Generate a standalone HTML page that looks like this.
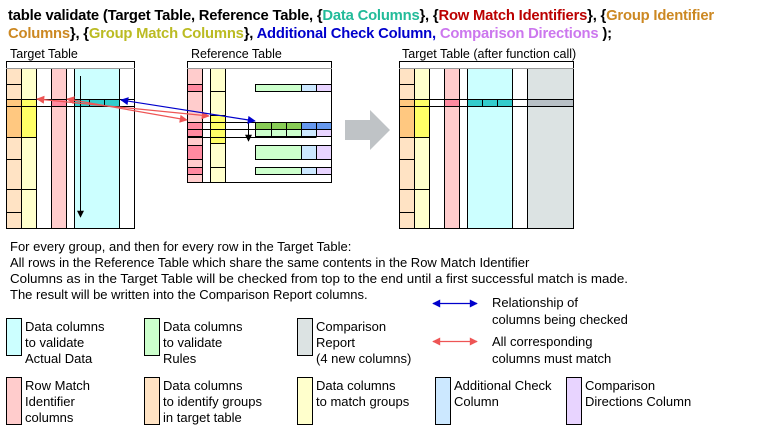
<!DOCTYPE html>
<html><head><meta charset="utf-8"><style>
body{margin:0;background:#fff;}
svg{display:block;font-family:"Liberation Sans",Arial,sans-serif;}
</style></head><body>
<svg width="762" height="435" viewBox="0 0 762 435" xmlns="http://www.w3.org/2000/svg">
<defs>
<marker id="ab" viewBox="0 0 10 10" refX="9" refY="5" markerWidth="10" markerHeight="8" markerUnits="userSpaceOnUse" orient="auto-start-reverse"><path d="M0,0L10,5L0,10z" fill="#0000cc"/></marker>
<marker id="ar" viewBox="0 0 10 10" refX="9" refY="5" markerWidth="10" markerHeight="8" markerUnits="userSpaceOnUse" orient="auto-start-reverse"><path d="M0,0L10,5L0,10z" fill="#ee5555"/></marker>
<marker id="ak" viewBox="0 0 10 10" refX="9" refY="5" markerWidth="8" markerHeight="7" markerUnits="userSpaceOnUse" orient="auto"><path d="M0,0L10,5L0,10z" fill="#000"/></marker>
</defs>
<g font-weight="bold" font-size="14.8" letter-spacing="-0.2">
<text x="8" y="20"><tspan fill="#000">table validate (Target Table, Reference Table, {</tspan><tspan fill="#22bb99">Data Columns</tspan><tspan fill="#000">}, {</tspan><tspan fill="#bb0000">Row Match Identifiers</tspan><tspan fill="#000">}, {</tspan><tspan fill="#cc8822">Group Identifier</tspan></text>
<text x="8" y="38"><tspan fill="#cc8822">Columns</tspan><tspan fill="#000">}, {</tspan><tspan fill="#bbbb22">Group Match Columns</tspan><tspan fill="#000">}, </tspan><tspan fill="#0000cc">Additional  Check Column, </tspan><tspan fill="#cc77ee">Comparison Directions</tspan><tspan fill="#000"> );</tspan></text>
</g>
<g font-size="12.5" fill="#000">
<text x="10" y="58">Target  Table</text>
<text x="191" y="58">Reference  Table</text>
<text x="402" y="58">Target  Table  (after function call)</text>
</g>

<!-- Target table -->
<g stroke="#000" stroke-width="1">
<rect x="6.5" y="61.5" width="128" height="7" fill="#fff"/>
<rect x="6.5" y="68.5" width="128" height="160" fill="#fff"/>
<rect x="6.5" y="68.5" width="15" height="160" fill="#ffe3c4"/>
<rect x="21.5" y="68.5" width="15" height="160" fill="#ffffcc"/>
<rect x="51.5" y="68.5" width="15" height="160" fill="#ffcccc"/>
<rect x="74.5" y="68.5" width="45" height="160" fill="#ccffff"/>
<line x1="66.5" y1="68.5" x2="66.5" y2="228.5"/>
<rect x="6.5" y="106.5" width="15" height="31" fill="#ffc880"/>
<rect x="21.5" y="106.5" width="15" height="31" fill="#ffff66"/>
<rect x="6.5" y="99.5" width="15" height="7" fill="#ffc880"/>
<rect x="21.5" y="99.5" width="15" height="7" fill="#ffff66"/>
<rect x="51.5" y="99.5" width="15" height="7" fill="#ff8aa0"/>
<rect x="74.5" y="99.5" width="15" height="7" fill="#33cccc"/>
<rect x="89.5" y="99.5" width="15" height="7" fill="#33cccc"/>
<rect x="104.5" y="99.5" width="15" height="7" fill="#33cccc"/>
<line x1="6.5" y1="99.5" x2="134.5" y2="99.5"/>
<line x1="6.5" y1="106.5" x2="134.5" y2="106.5"/>
<line x1="6.5" y1="84.5" x2="21.5" y2="84.5"/>
<line x1="6.5" y1="159.5" x2="21.5" y2="159.5"/>
<line x1="6.5" y1="189.5" x2="36.5" y2="189.5"/>
<line x1="6.5" y1="212.5" x2="21.5" y2="212.5"/>
<line x1="6.5" y1="137.5" x2="36.5" y2="137.5"/>
</g>
<line x1="6" y1="68.5" x2="135" y2="68.5" stroke="#999" stroke-width="1"/>
<line x1="80.5" y1="76" x2="80.5" y2="217" stroke="#000" stroke-width="1" marker-end="url(#ak)"/>

<!-- Reference table -->
<g stroke="#000" stroke-width="1">
<rect x="187.5" y="61.5" width="144" height="7" fill="#fff"/>
<rect x="187.5" y="68.5" width="144" height="114" fill="#fff"/>
<rect x="187.5" y="68.5" width="15" height="114" fill="#ffcccc"/>
<rect x="210.5" y="68.5" width="15" height="114" fill="#ffffcc"/>
<rect x="210.5" y="115.5" width="15" height="28" fill="#ffff66"/>
<rect x="187.5" y="84.5" width="15" height="7" fill="#ff8aa0"/>
<rect x="187.5" y="122.5" width="15" height="7" fill="#ff8aa0"/>
<rect x="187.5" y="129.5" width="15" height="7" fill="#ff8aa0"/>
<rect x="187.5" y="145.5" width="15" height="14" fill="#ff8aa0"/>
<rect x="187.5" y="167.5" width="15" height="7" fill="#ff8aa0"/>
<line x1="210.5" y1="91.5" x2="225.5" y2="91.5"/>
<line x1="210.5" y1="143.5" x2="225.5" y2="143.5"/>
<line x1="210.5" y1="167.5" x2="225.5" y2="167.5"/>
<rect x="255.5" y="84.5" width="46" height="7" fill="#ccffcc"/><rect x="301.5" y="84.5" width="15" height="7" fill="#cce8ff"/><rect x="316.5" y="84.5" width="15" height="7" fill="#e8d4ff"/>
<rect x="255.5" y="122.5" width="16" height="7" fill="#88cc55"/><rect x="271.5" y="122.5" width="15" height="7" fill="#88cc55"/><rect x="286.5" y="122.5" width="15" height="7" fill="#88cc55"/><rect x="301.5" y="122.5" width="15" height="7" fill="#6699ee"/><rect x="316.5" y="122.5" width="15" height="7" fill="#6699ee"/>
<rect x="255.5" y="129.5" width="16" height="7" fill="#ccffcc"/><rect x="271.5" y="129.5" width="15" height="7" fill="#ccffcc"/><rect x="286.5" y="129.5" width="15" height="7" fill="#ccffcc"/><rect x="301.5" y="129.5" width="15" height="7" fill="#cce8ff"/><rect x="316.5" y="129.5" width="15" height="7" fill="#e8d4ff"/>
<rect x="255.5" y="145.5" width="46" height="14" fill="#ccffcc"/><rect x="301.5" y="145.5" width="15" height="14" fill="#cce8ff"/><rect x="316.5" y="145.5" width="15" height="14" fill="#e8d4ff"/>
<rect x="255.5" y="167.5" width="46" height="7" fill="#ccffcc"/><rect x="301.5" y="167.5" width="15" height="7" fill="#cce8ff"/><rect x="316.5" y="167.5" width="15" height="7" fill="#e8d4ff"/>
<line x1="187.5" y1="122.5" x2="331.5" y2="122.5"/>
<line x1="187.5" y1="129.5" x2="331.5" y2="129.5"/>
<line x1="187.5" y1="137.5" x2="316.5" y2="137.5"/>
</g>
<line x1="187" y1="68.5" x2="332" y2="68.5" stroke="#999"/>
<line x1="248.5" y1="123" x2="248.5" y2="141" stroke="#000" marker-end="url(#ak)"/>

<!-- arrows -->
<line x1="37" y1="99" x2="209" y2="116" stroke="#ee5555" stroke-width="1.2" marker-start="url(#ar)" marker-end="url(#ar)"/>
<line x1="67" y1="99" x2="187" y2="120" stroke="#ee5555" stroke-width="1.2" marker-start="url(#ar)" marker-end="url(#ar)"/>
<line x1="121" y1="100" x2="255" y2="121" stroke="#0000cc" stroke-width="1.2" marker-start="url(#ab)" marker-end="url(#ab)"/>

<path d="M345,120 L370,120 L370,110 L390,130 L370,150 L370,140 L345,140 Z" fill="#bfc3c6"/>

<!-- After table -->
<g stroke="#000" stroke-width="1">
<rect x="399.5" y="61.5" width="174" height="7" fill="#fff"/>
<rect x="399.5" y="68.5" width="174" height="160" fill="#fff"/>
<rect x="399.5" y="68.5" width="15" height="160" fill="#ffe3c4"/>
<rect x="414.5" y="68.5" width="15" height="160" fill="#ffffcc"/>
<rect x="444.5" y="68.5" width="15" height="160" fill="#ffcccc"/>
<rect x="467.5" y="68.5" width="45" height="160" fill="#ccffff"/>
<line x1="459.5" y1="68.5" x2="459.5" y2="228.5"/>
<rect x="527.5" y="68.5" width="46" height="160" fill="#dce3e3"/>
<rect x="399.5" y="106.5" width="15" height="31" fill="#ffc880"/>
<rect x="414.5" y="106.5" width="15" height="31" fill="#ffff66"/>
<rect x="399.5" y="99.5" width="15" height="7" fill="#ffc880"/>
<rect x="414.5" y="99.5" width="15" height="7" fill="#ffff66"/>
<rect x="444.5" y="99.5" width="15" height="7" fill="#ff8aa0"/>
<rect x="467.5" y="99.5" width="15" height="7" fill="#33cccc"/>
<rect x="482.5" y="99.5" width="15" height="7" fill="#33cccc"/>
<rect x="497.5" y="99.5" width="15" height="7" fill="#33cccc"/>
<rect x="527.5" y="99.5" width="46" height="7" fill="#b8c0c6"/>
<line x1="399.5" y1="99.5" x2="573.5" y2="99.5"/>
<line x1="399.5" y1="106.5" x2="573.5" y2="106.5"/>
<line x1="399.5" y1="84.5" x2="414.5" y2="84.5"/>
<line x1="399.5" y1="159.5" x2="414.5" y2="159.5"/>
<line x1="399.5" y1="189.5" x2="429.5" y2="189.5"/>
<line x1="399.5" y1="212.5" x2="414.5" y2="212.5"/>
<line x1="399.5" y1="137.5" x2="429.5" y2="137.5"/>
</g>
<line x1="399" y1="68.5" x2="574" y2="68.5" stroke="#999"/>

<g font-size="13" fill="#000">
<text x="10" y="251">For every  group,  and then for every  row in the Target  Table:</text>
<text x="10" y="267">All rows  in the Reference  Table  which  share the same contents in the Row  Match Identifier</text>
<text x="10" y="283" textLength="618" lengthAdjust="spacingAndGlyphs">Columns  as in the Target  Table will be checked from  top to the end  until a first successful match is made.</text>
<text x="10" y="299">The  result will be written into the Comparison  Report  columns.</text>
</g>
<line x1="433" y1="303.5" x2="477" y2="303.5" stroke="#0000cc" stroke-width="1.2" marker-start="url(#ab)" marker-end="url(#ab)"/>
<line x1="433" y1="341.5" x2="477" y2="341.5" stroke="#ee5555" stroke-width="1.2" marker-start="url(#ar)" marker-end="url(#ar)"/>
<g font-size="13" fill="#000">
<text x="492" y="307">Relationship  of</text><text x="492" y="324">columns being checked</text>
<text x="492" y="346">All corresponding</text><text x="492" y="363">columns must match</text>
</g>

<g stroke="#000" stroke-width="1">
<rect x="6.5" y="318.5" width="15" height="37" fill="#ccffff"/>
<rect x="144.5" y="318.5" width="15" height="37" fill="#ccffcc"/>
<rect x="297.5" y="318.5" width="15" height="37" fill="#dce3e3"/>
<rect x="6.5" y="377.5" width="15" height="47" fill="#ffcccc"/>
<rect x="144.5" y="377.5" width="15" height="47" fill="#ffe3c4"/>
<rect x="297.5" y="377.5" width="15" height="47" fill="#ffffcc"/>
<rect x="435.5" y="377.5" width="15" height="47" fill="#cce8ff"/>
<rect x="566.5" y="377.5" width="15" height="47" fill="#e8d4ff"/>
</g>
<g font-size="13" fill="#000">
<text x="25" y="331">Data columns</text><text x="25" y="347">to validate</text><text x="25" y="363">Actual Data</text>
<text x="163" y="331">Data columns</text><text x="163" y="347">to validate</text><text x="163" y="363">Rules</text>
<text x="316" y="331">Comparison</text><text x="316" y="347">Report</text><text x="316" y="363">(4 new columns)</text>
<text x="25" y="390">Row Match</text><text x="25" y="406">Identifier</text><text x="25" y="422">columns</text>
<text x="163" y="390">Data columns</text><text x="163" y="406">to identify groups</text><text x="163" y="422">in target table</text>
<text x="316" y="390">Data columns</text><text x="316" y="406">to match groups</text>
<text x="454" y="390">Additional Check</text><text x="454" y="406">Column</text>
<text x="585" y="390">Comparison</text><text x="585" y="406">Directions Column</text>
</g>
</svg>
</body></html>
